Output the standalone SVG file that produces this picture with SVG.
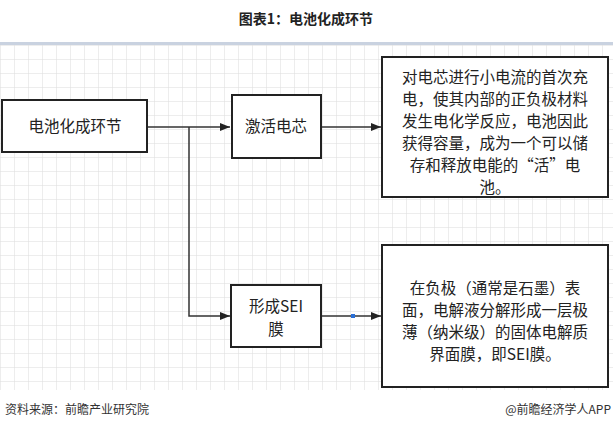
<svg xmlns="http://www.w3.org/2000/svg" width="613" height="429" viewBox="0 0 613 429">
<defs>
<pattern id="grid" width="14" height="14" patternUnits="userSpaceOnUse" x="0" y="45">
<path d="M14 0H0V14" fill="none" stroke="#dcdcdc" stroke-width="1"/>
</pattern>
<marker id="ah" markerWidth="10" markerHeight="8" refX="10" refY="4" orient="auto" markerUnits="userSpaceOnUse">
<path d="M0 0L10 4L0 8z" fill="#222"/>
</marker>
<style>
.box{fill:#fff;stroke:#222;stroke-width:2}
.t{font-family:"Noto Sans CJK SC","Liberation Sans",sans-serif;font-size:15.5px;fill:#222;text-anchor:middle}
.c{fill:none;stroke:#333;stroke-width:1.5}
.f{font-family:"Noto Sans CJK SC","Liberation Sans",sans-serif;font-size:12px;fill:#333}
</style>
</defs>
<rect width="613" height="429" fill="#fff"/>
<text x="306" y="24" font-family="Noto Sans CJK SC,sans-serif" font-size="14" font-weight="bold" fill="#222" text-anchor="middle">图表1：电池化成环节</text>
<rect x="0" y="45" width="613" height="345" fill="url(#grid)"/>
<rect x="0" y="42" width="613" height="3" fill="#c9d2e0"/>
<g id="connectors">
<path class="c" d="M147 127H230" marker-end="url(#ah)"/>
<path class="c" d="M189 127V316H230" marker-end="url(#ah)"/>
<path class="c" d="M321 127H381" marker-end="url(#ah)"/>
<path class="c" d="M321 316H381" marker-end="url(#ah)"/>
<rect x="351" y="314" width="4" height="4" fill="#2a6fd6"/>
</g>
<g id="n1"><rect class="box" x="2" y="100" width="145" height="52"/><text class="t" x="75" y="132">电池化成环节</text></g>
<g id="n2"><rect class="box" x="232" y="95" width="89" height="63"/><text class="t" x="276" y="132">激活电芯</text></g>
<g id="n3"><rect class="box" x="382" y="57" width="226" height="140"/>
<text class="t" x="495" y="83">对电芯进行小电流的首次充</text>
<text class="t" x="495" y="105">电，使其内部的正负极材料</text>
<text class="t" x="495" y="127">发生电化学反应，电池因此</text>
<text class="t" x="495" y="149">获得容量，成为一个可以储</text>
<text class="t" x="495" y="171">存和释放电能的“活”电</text>
<text class="t" x="495" y="193">池。</text></g>
<g id="n4"><rect class="box" x="231" y="285" width="90" height="62"/><text class="t" x="276" y="312">形成SEI</text><text class="t" x="276" y="335">膜</text></g>
<g id="n5"><rect class="box" x="382" y="245" width="226" height="142"/>
<text class="t" x="495" y="294">在负极（通常是石墨）表</text>
<text class="t" x="495" y="316">面，电解液分解形成一层极</text>
<text class="t" x="495" y="338">薄（纳米级）的固体电解质</text>
<text class="t" x="495" y="360">界面膜，即SEI膜。</text></g>
<text class="f" x="5" y="414">资料来源：前瞻产业研究院</text>
<text class="f" x="611" y="414" text-anchor="end">@前瞻经济学人APP</text>
</svg>
